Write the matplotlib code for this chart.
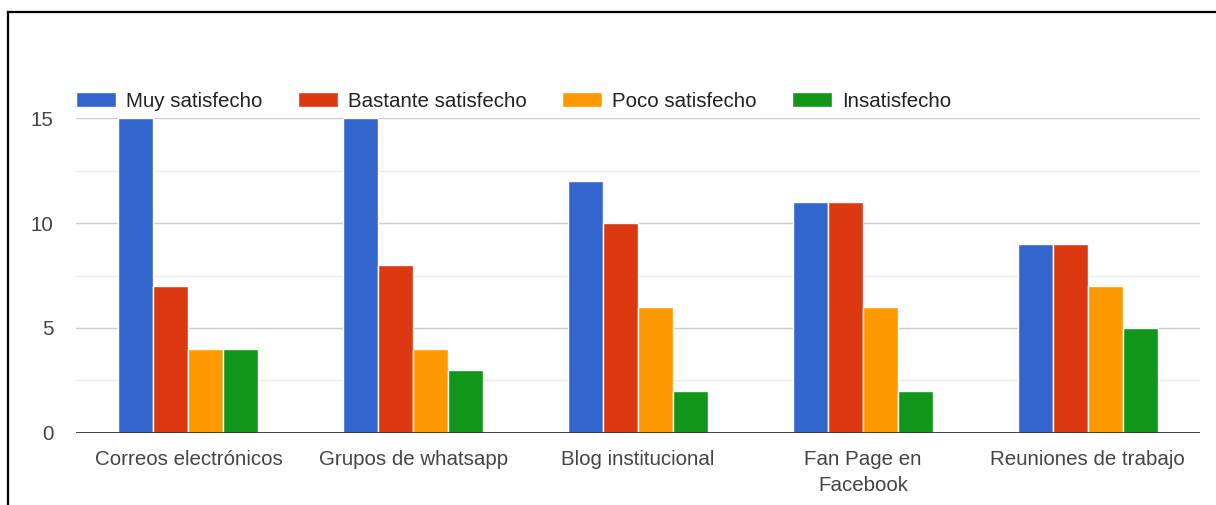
import matplotlib.pyplot as plt
import numpy as np
from matplotlib.lines import Line2D

plt.rcParams['font.family'] = ['Liberation Sans', 'DejaVu Sans']

categories = ["Correos electrónicos", "Grupos de whatsapp", "Blog institucional",
              "Fan Page en\nFacebook", "Reuniones de trabajo"]
series = ["Muy satisfecho", "Bastante satisfecho", "Poco satisfecho", "Insatisfecho"]
muy = [15, 15, 12, 11, 9]
bastante = [7, 8, 10, 11, 9]
poco = [4, 4, 6, 6, 7]
insatisfecho = [4, 3, 2, 2, 5]
colors = ["#3366cc", "#dc3912", "#ff9900", "#109618"]

fig = plt.figure(figsize=(12.16, 5.05), dpi=100)
ax = fig.add_axes([0.0625, 0.1426, 0.9245, 0.6237])

x = np.arange(len(categories))
pitch = 0.1557
for i, (vals, name, col) in enumerate(zip([muy, bastante, poco, insatisfecho], series, colors)):
    ax.bar(x + (i - 1.5) * pitch, vals, width=pitch, color=col, edgecolor="white",
           linewidth=1.0, label=name, zorder=3)

ax.set_xlim(-0.5, len(categories) - 0.5)
ax.set_ylim(0, 15)

# gridlines: major every 5, minor every 2.5
for y in np.arange(2.5, 15.1, 2.5):
    c = "#cccccc" if y % 5 == 0 else "#ebebeb"
    ax.axhline(y, color=c, linewidth=1, zorder=1)
ax.axhline(0, color="#333333", linewidth=1.3, zorder=4)

ax.set_yticks([0, 5, 10, 15])
ax.set_xticks(x)
ax.set_xticklabels(categories, fontsize=14.8, color="#444444", linespacing=1.5)
ax.tick_params(axis="y", length=0, pad=16, labelsize=14.8, labelcolor="#444444")
ax.tick_params(axis="x", length=0, pad=12)
for s in ax.spines.values():
    s.set_visible(False)

ax.legend(loc="center left", bbox_to_anchor=(0.0, 1.054), ncol=4, frameon=False,
          fontsize=14.8, handlelength=1.95, handleheight=0.8, handletextpad=0.5,
          columnspacing=1.7, borderpad=0, borderaxespad=0, labelcolor="#222222")

# outer frame (top and left edges)
fig.add_artist(Line2D([0.0066, 1.0], [0.976, 0.976], color="black", linewidth=1.6,
                      transform=fig.transFigure))
fig.add_artist(Line2D([0.0066, 0.0066], [0.0, 0.976], color="black", linewidth=1.6,
                      transform=fig.transFigure))

fig.savefig("out.png", dpi=100)
